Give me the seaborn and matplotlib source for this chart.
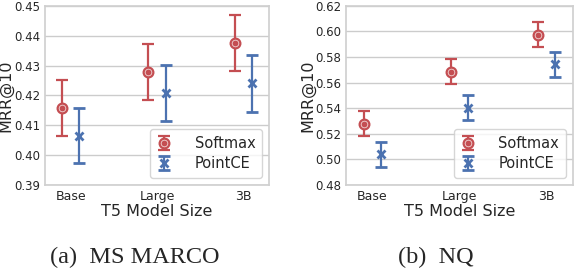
import matplotlib
matplotlib.use("Agg")
import matplotlib.pyplot as plt
import seaborn as sns
import numpy as np
from matplotlib.legend_handler import HandlerTuple

sizes = ["Base", "Large", "3B"]
ms_softmax = [0.4158, 0.4278, 0.4375]
ms_softmax_err = [0.0094, 0.0094, 0.0094]
ms_pointce = [0.4065, 0.4209, 0.4240]
ms_pointce_err = [0.0093, 0.0094, 0.0094]
nq_softmax = [0.5279, 0.5686, 0.5976]
nq_softmax_err = [0.0100, 0.0098, 0.0099]
nq_pointce = [0.5040, 0.5403, 0.5742]
nq_pointce_err = [0.0099, 0.0099, 0.0098]
ms_yticks = [0.39, 0.40, 0.41, 0.42, 0.43, 0.44, 0.45]
nq_yticks = [0.48, 0.50, 0.52, 0.54, 0.56, 0.58, 0.60, 0.62]

sns.set_theme(style="whitegrid")
plt.rcParams["font.family"] = ["DejaVu Sans"]
pal = sns.color_palette("deep")
red, blue = pal[3], pal[0]

fig = plt.figure(figsize=(5.74, 2.68), dpi=100)
ax1 = fig.add_axes([0.078, 0.310, 0.391, 0.668])
ax2 = fig.add_axes([0.603, 0.310, 0.395, 0.668])

def panel(ax, sm, sme, pc, pce, yticks, fmt):
    x = np.arange(len(sizes))
    h1 = ax.errorbar(x - 0.1, sm, yerr=sme, linestyle="none", marker="o",
                     ms=7, mew=1.6, mfc="#f4dede", mec=red, color=red,
                     elinewidth=1.6, capsize=4, capthick=1.6, zorder=2)
    d1, = ax.plot(x - 0.1, sm, linestyle="none", marker="o", ms=3.2,
                  color=red, zorder=3)
    h2 = ax.errorbar(x + 0.1, pc, yerr=pce, linestyle="none", marker="x",
                     ms=6, mew=2, color=blue, elinewidth=1.6, capsize=4, capthick=1.6)
    ax.legend([(h1, d1), h2], ["Softmax", "PointCE"], loc="lower right",
              handler_map={tuple: HandlerTuple(ndivide=1)},
              fontsize=10.5, handletextpad=1.6, borderpad=0.45, labelspacing=0.35,
              handlelength=1.0, borderaxespad=0.5)
    ax.set_xticks(x)
    ax.set_xticklabels(sizes, fontsize=9)
    ax.set_xlim(-0.3, 2.3)
    ax.set_yticks(yticks)
    ax.set_yticklabels([fmt.format(v) for v in yticks], fontsize=8.5)
    ax.set_ylim(yticks[0], yticks[-1])
    ax.grid(axis="x", visible=False)
    ax.set_xlabel("T5 Model Size", fontsize=11.5, labelpad=1)
    ax.set_ylabel("MRR@10", fontsize=11.5, labelpad=0)
    ax.tick_params(axis="both", length=0, pad=3.5)
    for s in ax.spines.values():
        s.set_edgecolor("#d0d0d0")

panel(ax1, ms_softmax, ms_softmax_err, ms_pointce, ms_pointce_err, ms_yticks, "{:.2f}")
panel(ax2, nq_softmax, nq_softmax_err, nq_pointce, nq_pointce_err, nq_yticks, "{:.2f}")

fig.text(0.235, 0.04, "(a)  MS MARCO", ha="center", va="center",
         fontsize=17.5, family="Liberation Serif")
fig.text(0.76, 0.04, "(b)  NQ", ha="center", va="center",
         fontsize=17.5, family="Liberation Serif")

fig.savefig("out.png", dpi=100)
